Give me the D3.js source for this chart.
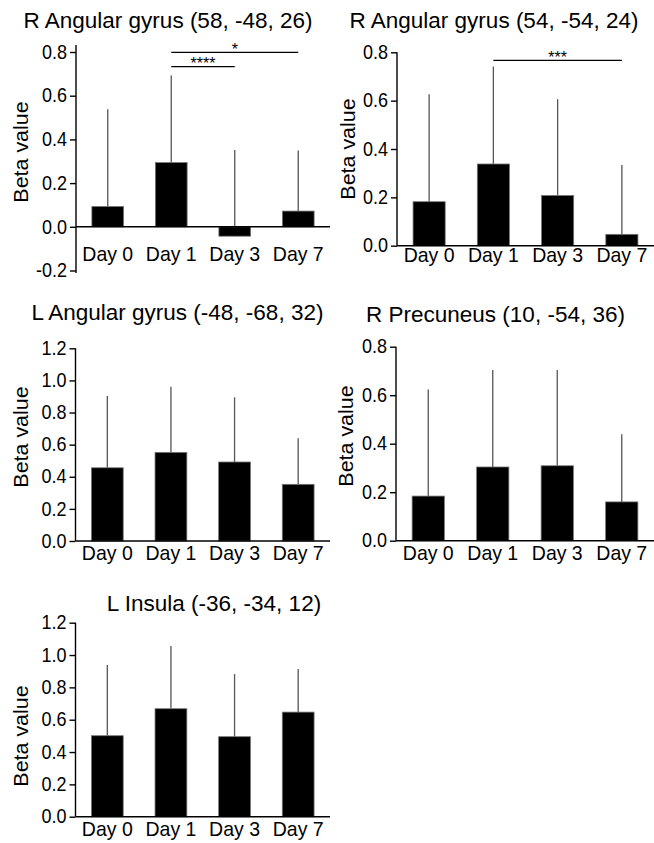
<!DOCTYPE html>
<html>
<head>
<meta charset="utf-8">
<script src="https://cdn.jsdelivr.net/npm/d3@7"></script>
<style>
  body { margin: 0; background: #fff; }
  svg { display: block; font-family: "Liberation Sans", Arial, sans-serif; }
</style>
</head>
<body>
<div id="chart"></div>
<script>
const days = ["Day 0", "Day 1", "Day 3", "Day 7"];

const titles = [
  "R Angular gyrus (58, -48, 26)",
  "R Angular gyrus (54, -54, 24)",
  "L Angular gyrus (-48, -68, 32)",
  "R Precuneus (10, -54, 36)",
  "L Insula (-36, -34, 12)"
];

// bar heights (mean beta) and top of the error whisker, one row per region
const means = [
  [0.093, 0.294, -0.043, 0.072],
  [0.182, 0.338, 0.208, 0.047],
  [0.456, 0.552, 0.492, 0.353],
  [0.184, 0.304, 0.309, 0.160],
  [0.501, 0.668, 0.495, 0.647]
];
const upper = [
  [0.538, 0.693, 0.352, 0.349],
  [0.626, 0.741, 0.606, 0.334],
  [0.903, 0.961, 0.895, 0.640],
  [0.624, 0.704, 0.704, 0.439],
  [0.938, 1.056, 0.882, 0.913]
];

const yDomains = [[-0.2, 0.8], [0, 0.8], [0, 1.2], [0, 0.8], [0, 1.2]];
const yTicks = [
  [-0.2, 0, 0.2, 0.4, 0.6, 0.8],
  [0, 0.2, 0.4, 0.6, 0.8],
  [0, 0.2, 0.4, 0.6, 0.8, 1.0, 1.2],
  [0, 0.2, 0.4, 0.6, 0.8],
  [0, 0.2, 0.4, 0.6, 0.8, 1.0, 1.2]
];

// significance brackets
const sigs = [
  [{ from: "Day 1", to: "Day 7", label: "*" }, { from: "Day 1", to: "Day 3", label: "****" }],
  [{ from: "Day 1", to: "Day 7", label: "***" }],
  [], [], []
];

const width = 654, height = 843;
const stretch = 1.08; // the source text is a bit taller than Arial

// layout of each panel (pixels)
const layout = [
  { x0: 76, x1: 330, yb: 270.5, yt: 52, axTop: 45, axBot: 273, tx: 168, ty: 28, bx: 28, by: 152, dayY: 261, sigY: [52.3, 66.7] },
  { x0: 397, x1: 654, yb: 245.7, yt: 52.3, axTop: 52.3, axBot: 245.7, tx: 494, ty: 28, bx: 355, by: 149, dayY: 262, sigY: [60.3] },
  { x0: 75.5, x1: 330, yb: 541, yt: 348.3, axTop: 348.3, axBot: 541, tx: 177.5, ty: 320, bx: 28, by: 437, dayY: 560 },
  { x0: 396, x1: 654, yb: 540.7, yt: 346.7, axTop: 346.7, axBot: 540.7, tx: 495.5, ty: 322, bx: 353, by: 436, dayY: 560 },
  { x0: 75.5, x1: 330, yb: 816.7, yt: 622.7, axTop: 622.7, axBot: 816.7, tx: 214, ty: 611, bx: 28, by: 736, dayY: 836 }
];

const svg = d3.select("#chart")
  .append("svg")
  .attr("width", width)
  .attr("height", height)
  .attr("viewBox", [0, 0, width, height]);

titles.forEach((title, i) => {
  const L = layout[i];
  const g = svg.append("g");

  const x = d3.scaleBand()
    .domain(days)
    .range([L.x0, L.x1])
    .paddingInner(0.5)
    .paddingOuter(0.25);

  const y = d3.scaleLinear()
    .domain(yDomains[i])
    .range([L.yb, L.yt]);

  const rows = days.map((d, j) => ({ day: d, mean: means[i][j], up: upper[i][j] }));

  // error whiskers (upper only)
  g.append("g")
    .selectAll("line")
    .data(rows)
    .join("line")
    .attr("x1", d => x(d.day) + x.bandwidth() / 2)
    .attr("x2", d => x(d.day) + x.bandwidth() / 2)
    .attr("y1", d => y(d.mean))
    .attr("y2", d => y(d.up))
    .attr("stroke", "#555")
    .attr("stroke-width", 1.3);

  // bars
  g.append("g")
    .selectAll("rect")
    .data(rows)
    .join("rect")
    .attr("x", d => x(d.day))
    .attr("width", x.bandwidth())
    .attr("y", d => Math.min(y(d.mean), y(0)))
    .attr("height", d => Math.abs(y(d.mean) - y(0)))
    .attr("fill", "#000")
    .attr("stroke", "#777")
    .attr("stroke-width", 0.8);

  // y axis
  const yAxis = g.append("g")
    .attr("transform", `translate(${L.x0},0)`)
    .call(d3.axisLeft(y).tickValues(yTicks[i]).tickFormat(d => d.toFixed(1)).tickSize(6).tickPadding(3));
  yAxis.select(".domain").remove();
  yAxis.selectAll(".tick line").attr("stroke", "#000").attr("stroke-width", 1.4);
  yAxis.selectAll(".tick text")
    .attr("font-size", 18)
    .attr("font-family", "Liberation Sans, Arial, sans-serif")
    .attr("fill", "#000")
    .attr("transform", `scale(1,${stretch})`);
  g.append("line")
    .attr("x1", L.x0).attr("x2", L.x0)
    .attr("y1", L.axTop).attr("y2", L.axBot)
    .attr("stroke", "#000").attr("stroke-width", 1.4);

  // baseline at zero
  g.append("line")
    .attr("x1", L.x0).attr("x2", L.x1)
    .attr("y1", y(0)).attr("y2", y(0))
    .attr("stroke", "#000").attr("stroke-width", 1.4);

  // day labels
  g.append("g")
    .selectAll("text")
    .data(days)
    .join("text")
    .attr("transform", d => `translate(${x(d) + x.bandwidth() / 2},${L.dayY}) scale(1,${stretch})`)
    .attr("text-anchor", "middle")
    .attr("font-size", 19.5)
    .text(d => d);

  // title
  g.append("text")
    .attr("x", L.tx)
    .attr("y", L.ty)
    .attr("text-anchor", "middle")
    .attr("font-size", 22.5)
    .text(title);

  // y label
  g.append("text")
    .attr("transform", `translate(${L.bx},${L.by}) rotate(-90) scale(1.1,1)`)
    .attr("text-anchor", "middle")
    .attr("font-size", 19.5)
    .text("Beta value");

  // significance
  sigs[i].forEach((s, k) => {
    const xa = x(s.from) + x.bandwidth() / 2;
    const xb = x(s.to) + x.bandwidth() / 2;
    const yy = L.sigY[k];
    g.append("line")
      .attr("x1", xa).attr("x2", xb)
      .attr("y1", yy).attr("y2", yy)
      .attr("stroke", "#000").attr("stroke-width", 1.2);
    g.append("text")
      .attr("x", (xa + xb) / 2)
      .attr("y", yy + 2.5)
      .attr("text-anchor", "middle")
      .attr("font-size", 16)
      .text(s.label);
  });
});
</script>
</body>
</html>
